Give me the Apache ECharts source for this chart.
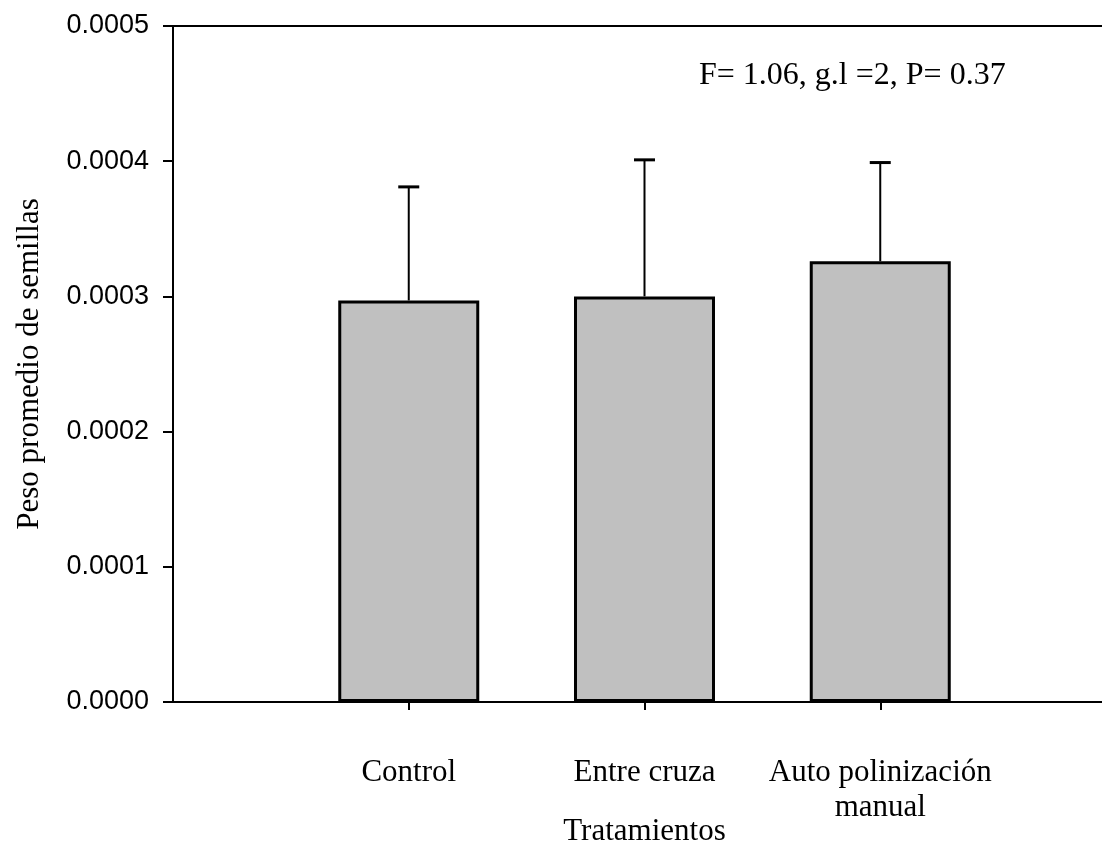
<!DOCTYPE html>
<html>
<head>
<meta charset="utf-8">
<script src="https://cdn.jsdelivr.net/npm/echarts@6/dist/echarts.min.js"></script>
<style>
html,body{margin:0;padding:0;background:#fff;}
#chart{width:1102px;height:844px;}
</style>
</head>
<body>
<div id="chart"></div>
<script>
// Data
const categories = ['Control', 'Entre cruza', 'Auto polinización\nmanual'];
const categoryPositions = [1, 2, 3];
const means = [0.000297, 0.000300, 0.000326];
const upperErrors = [0.000084, 0.000101, 0.000073];
const yTicks = [0, 0.0001, 0.0002, 0.0003, 0.0004, 0.0005];
const statsText = 'F= 1.06, g.l =2, P= 0.37';
const xTitle = 'Tratamientos';
const yTitle = 'Peso promedio de semillas';

const chart = echarts.init(document.getElementById('chart'), null, {renderer: 'canvas'});

const barData = categoryPositions.map((p, i) => [p, means[i]]);
const errData = categoryPositions.map((p, i) => [p, means[i], means[i] + upperErrors[i]]);

const option = {
  backgroundColor: '#ffffff',
  animation: false,
  grid: {left: 173, top: 26, width: 943, height: 676, containLabel: false, outerBoundsMode: 'none'},
  xAxis: [{
    type: 'value', min: 0, max: 4, interval: 1, position: 'bottom',
    axisLine: {show: true, onZero: false, lineStyle: {color: '#000', width: 2}},
    axisTick: {show: true, length: 8, inside: false, customValues: categoryPositions, lineStyle: {color: '#000', width: 2}},
    axisLabel: {
      show: true, customValues: categoryPositions, margin: 53,
      formatter: v => categories[categoryPositions.indexOf(v)] || '',
      fontFamily: 'Liberation Serif', fontSize: 31, color: '#000', lineHeight: 35
    },
    splitLine: {show: false},
    name: xTitle, nameLocation: 'middle', nameGap: 114, nameMoveOverlap: false,
    nameTextStyle: {fontFamily: 'Liberation Serif', fontSize: 31, color: '#000'}
  }, {
    type: 'value', min: 0, max: 4, position: 'top',
    axisLine: {show: true, onZero: false, lineStyle: {color: '#000', width: 2}},
    axisTick: {show: false}, axisLabel: {show: false}, splitLine: {show: false}
  }],
  yAxis: {
    type: 'value', min: yTicks[0], max: yTicks[yTicks.length - 1], interval: 0.0001,
    axisLine: {show: true, onZero: false, lineStyle: {color: '#000', width: 2}},
    axisTick: {show: true, length: 10, lineStyle: {color: '#000', width: 2}},
    axisLabel: {
      margin: 24, fontFamily: 'Liberation Sans', fontSize: 27, color: '#000',
      formatter: v => v.toFixed(4)
    },
    splitLine: {show: false},
    name: yTitle, nameLocation: 'middle', nameGap: 128, nameMoveOverlap: false,
    nameTextStyle: {fontFamily: 'Liberation Serif', fontSize: 31, color: '#000'}
  },
  series: [{
    type: 'bar', data: barData, barWidth: 141, xAxisIndex: 0,
    itemStyle: {color: '#c0c0c0', borderColor: '#000', borderWidth: 3},
    z: 2
  }, {
    type: 'custom', data: errData, xAxisIndex: 0, z: 1,
    renderItem: function (params, api) {
      const x = api.value(0);
      const top = api.coord([x, api.value(2)]);
      const base = api.coord([x, api.value(1)]);
      const half = 10.5;
      return {
        type: 'group',
        children: [
          {type: 'line', shape: {x1: top[0], y1: top[1], x2: base[0], y2: base[1]},
           style: {stroke: '#000', lineWidth: 2}},
          {type: 'line', shape: {x1: top[0] - half, y1: top[1], x2: top[0] + half, y2: top[1]},
           style: {stroke: '#000', lineWidth: 3}}
        ]
      };
    }
  }],
  graphic: [{
    type: 'text', left: 699, top: 60,
    style: {text: statsText, fontFamily: 'Liberation Serif', fontSize: 32, fill: '#000'}
  }]
};
chart.setOption(option);
</script>
</body>
</html>
